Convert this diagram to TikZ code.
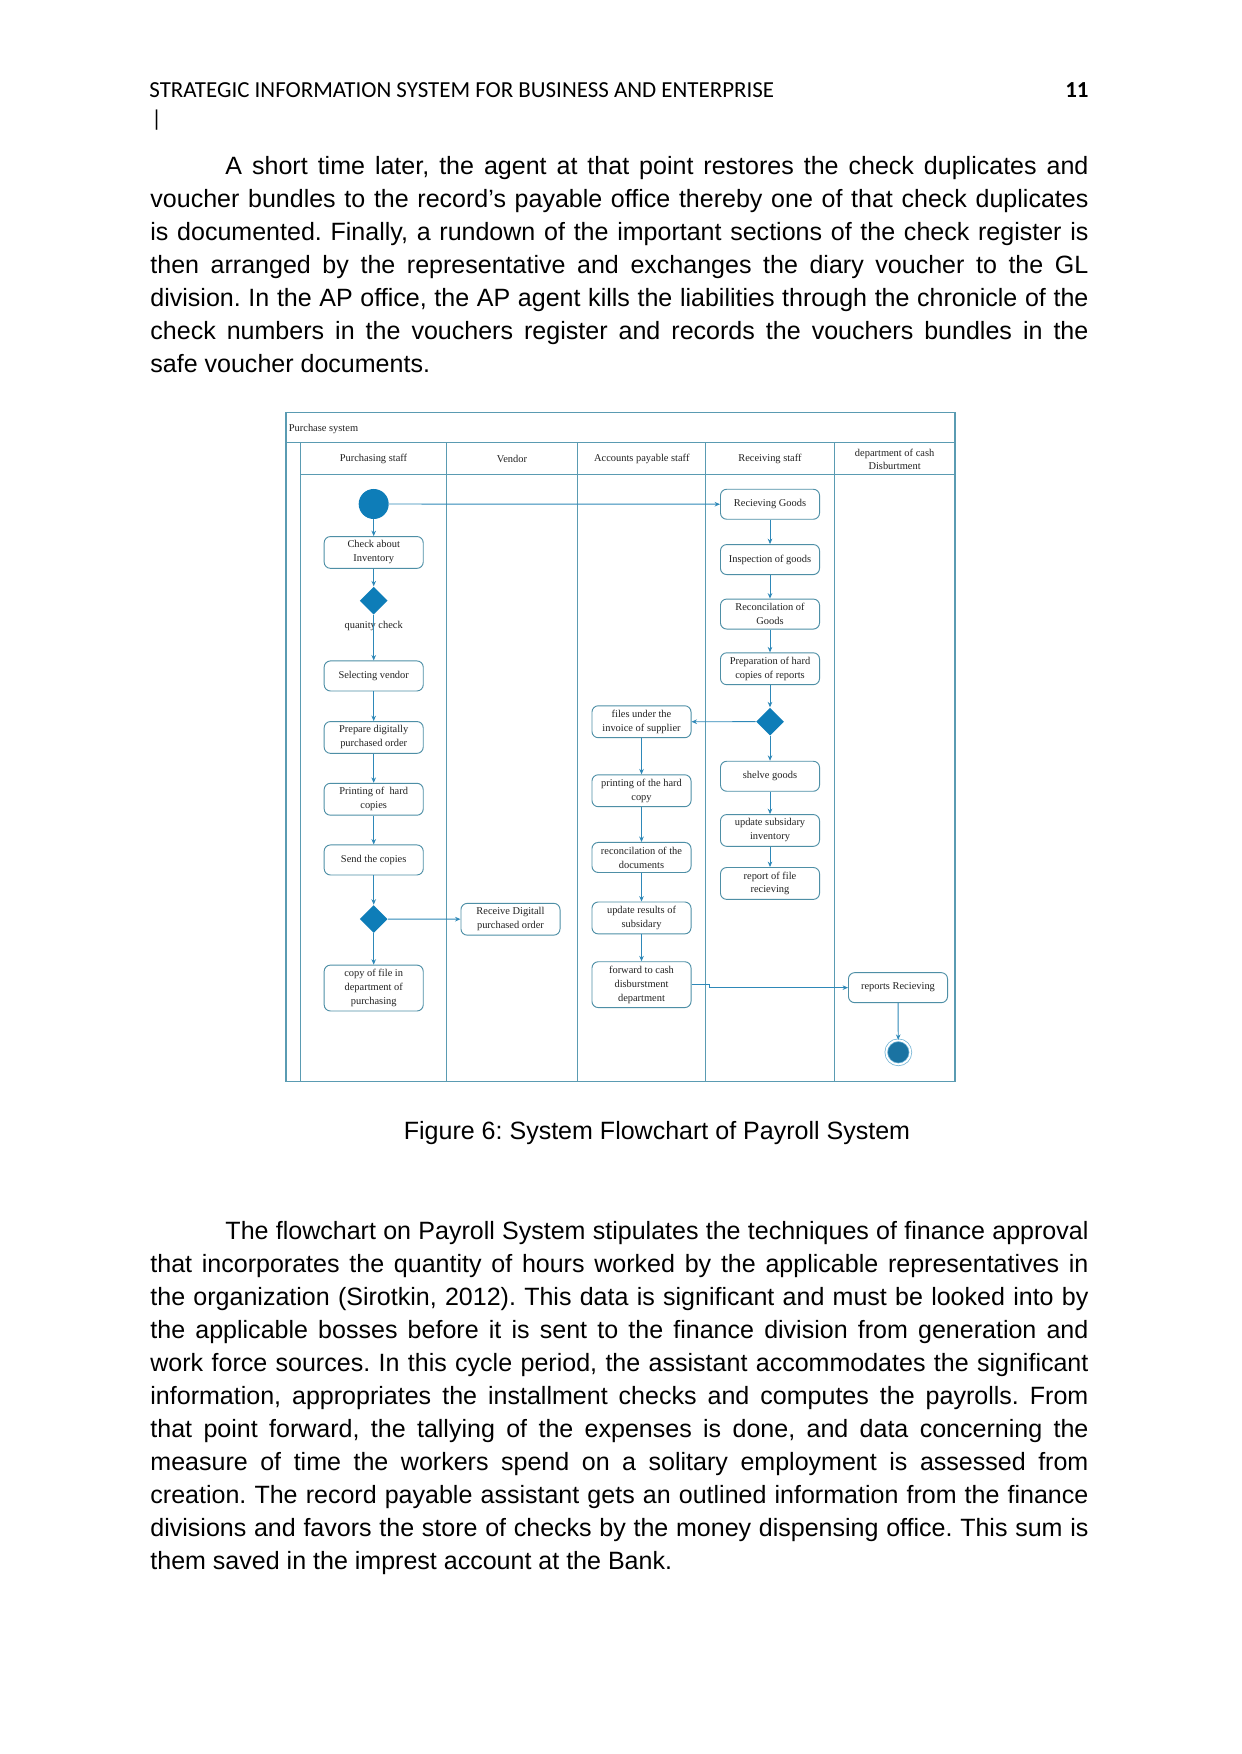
\documentclass[tikz,border=0pt]{standalone}
\usepackage{fontspec}
\setmainfont{Liberation Sans}
\newfontfamily\diafont{Liberation Serif}
\newfontfamily\headfont{Carlito}
\usetikzlibrary{shapes.geometric, arrows.meta, positioning}
\frenchspacing

\definecolor{laneline}{HTML}{5A9BB2}
\definecolor{boxline}{HTML}{4E8FA6}
\definecolor{flowblue}{HTML}{2E88B8}
\definecolor{decblue}{HTML}{0E7DB8}
\definecolor{endblue}{HTML}{1A73A2}
\definecolor{ringblue}{HTML}{6FB2D4}
\definecolor{diatext}{HTML}{222222}

\begin{document}
\begin{tikzpicture}[x=0.4795pt, y=-0.4795pt,
        para/.style={anchor=base west, inner sep=0pt, text width=449.8pt, align=justify, font=\fontsize{12}{15.82}\selectfont},
        lane/.style={draw=laneline, line width=0.5pt},
        lanehead/.style={font=\diafont\fontsize{5}{6.2}\selectfont, text=diatext, align=center, inner sep=0pt, yshift=-0.5pt},
        box/.style={rectangle, draw=boxline, line width=0.45pt, fill=white, rounded corners=3pt, minimum width=47.5pt, minimum height=14.4pt, inner xsep=2pt, inner ysep=2pt, align=center, text=diatext, font=\diafont\fontsize{5}{6.7}\selectfont, yshift=-0.6pt},
        dec/.style={diamond, fill=decblue, minimum width=13.4pt, minimum height=13.4pt, inner sep=0pt},
        startnode/.style={circle, fill=decblue, minimum size=14.4pt, inner sep=0pt},
        endnode/.style={circle, fill=endblue, draw=ringblue, line width=0.35pt, double=white, double distance=0.9pt, minimum size=11.6pt, inner sep=0pt},
        note/.style={font=\diafont\fontsize{5}{6}\selectfont, text=diatext, inner sep=0pt},
        flow/.style={draw=flowblue, line width=0.45pt, -{Stealth[length=2.6pt, width=2.2pt]}}
    ]
    \useasboundingbox[fill=white] (0,0) rectangle (1241,1754);

    % page header
    \node[anchor=base west, inner sep=0pt, font=\headfont\fontsize{11}{13}\selectfont] (head) at (149,97.5) {STRATEGIC INFORMATION SYSTEM FOR BUSINESS AND ENTERPRISE};
    \node[anchor=base east, inner sep=0pt, font=\headfont\bfseries\fontsize{11}{13}\selectfont] (pgno) at (1089,97.5) {11};
    \node[anchor=base west, inner sep=0pt, font=\headfont\fontsize{11}{13}\selectfont] (cursor) at (151,126.5) {|};

    % first paragraph
    \node[para] (par1) at (150,174.2) {\hspace*{36pt}A short time later, the agent at that point restores the check duplicates and\linebreak
        voucher bundles to the record’s payable office thereby one of that check duplicates\linebreak
        is documented. Finally, a rundown of the important sections of the check register is\linebreak
        then arranged by the representative and exchanges the diary voucher to the GL\linebreak
        division. In the AP office, the AP agent kills the liabilities through the chronicle of the\linebreak
        check numbers in the vouchers register and records the vouchers bundles in the\linebreak
        safe voucher documents.};

    % swimlanes
    \draw[lane] (286,412.3) rectangle (955,1081.7);
    \draw[lane] (286,442.3) -- (955,442.3);
    \draw[lane] (300.7,474.3) -- (955,474.3);
    \foreach \lx in {300.7, 446.3, 577.7, 705.7, 834.3}
        \draw[lane] (\lx,442.3) -- (\lx,1081.7);

    \node[lanehead, anchor=west] (title) at (288.5,428) {Purchase system};
    \node[lanehead] (lnA) at (373.5,458.3) {Purchasing staff};
    \node[lanehead] (lnB) at (512,458.3) {Vendor};
    \node[lanehead] (lnC) at (641.8,458.3) {Accounts payable staff};
    \node[lanehead] (lnD) at (770,458.3) {Receiving staff};
    \node[lanehead] (lnE) at (894.6,458.3) {department of cash\\Disburtment};

    % purchasing staff
    \node[startnode] (start) at (373.7,504) {};
    \node[box] (chk) at (373.7,551.2) {Check about\\Inventory};
    \node[dec] (dec1) at (373.7,600.7) {};
    \node[note] (qc) at (373.7,626.5) {quanity check};
    \node[box] (sel) at (373.7,674.7) {Selecting vendor};
    \node[box] (prep) at (373.7,736.2) {Prepare digitally\\purchased order};
    \node[box] (hard) at (373.7,798) {Printing of~ hard\\copies};
    \node[box] (send) at (373.7,858.7) {Send the copies};
    \node[dec] (dec2) at (373.7,919) {};
    \node[box] (copyf) at (373.7,986.8) {copy of file in\\department of\\purchasing};

    % vendor
    \node[box] (recv) at (510.5,918) {Receive Digitall\\purchased order};

    % accounts payable staff
    \node[box] (files) at (641.5,720.5) {files under the\\invoice of supplier};
    \node[box] (printh) at (641.5,789.5) {printing of the hard\\copy};
    \node[box] (recon) at (641.5,856.2) {reconcilation of the\\documents};
    \node[box] (upd) at (641.5,916.7) {update results of\\subsidary};
    \node[box] (fwd) at (641.5,983.4) {forward to cash\\disburstment\\department};

    % receiving staff
    \node[box] (rg) at (770,503) {Recieving Goods};
    \node[box] (insp) at (770,558.3) {Inspection of goods};
    \node[box] (recg) at (770,612.8) {Reconcilation of\\Goods};
    \node[box] (prephc) at (770,667.5) {Preparation of hard\\copies of reports};
    \node[dec] (dec3) at (770,721.7) {};
    \node[box] (shelve) at (770,775) {shelve goods};
    \node[box] (updinv) at (770,829.2) {update subsidary\\inventory};
    \node[box] (rep) at (770,882.2) {report of file\\recieving};

    % cash disbursement
    \node[box] (reprec) at (898,986.4) {reports Recieving};
    \node[endnode] (stop) at (898.3,1052.3) {};

    % connectors
    \draw[flow] (start) -- (chk);
    \draw[flow] (chk) -- (dec1);
    \draw[flow] (dec1) -- (sel);
    \draw[flow] (sel) -- (prep);
    \draw[flow] (prep) -- (hard);
    \draw[flow] (hard) -- (send);
    \draw[flow] (send) -- (dec2);
    \draw[flow] (dec2) -- (copyf);
    \draw[flow] (dec2) -- (recv);
    \draw[flow] (start) -- (rg);
    \draw[flow] (rg) -- (insp);
    \draw[flow] (insp) -- (recg);
    \draw[flow] (recg) -- (prephc);
    \draw[flow] (prephc) -- (dec3);
    \draw[flow] (dec3) -- (files);
    \draw[flow] (dec3) -- (shelve);
    \draw[flow] (shelve) -- (updinv);
    \draw[flow] (updinv) -- (rep);
    \draw[flow] (files) -- (printh);
    \draw[flow] (printh) -- (recon);
    \draw[flow] (recon) -- (upd);
    \draw[flow] (upd) -- (fwd);
    \draw[flow] (fwd.east) -- ++(18,0) |- (reprec.west);
    \draw[flow] (reprec) -- (stop);

    % caption
    \node[anchor=base, inner sep=0pt, font=\fontsize{12}{14}\selectfont] (caption) at (657,1139.5) {Figure 6: System Flowchart of Payroll System};

    % second paragraph
    \node[para] (par2) at (150,1239.3) {\hspace*{36pt}The flowchart on Payroll System stipulates the techniques of finance approval\linebreak
        that incorporates the quantity of hours worked by the applicable representatives in\linebreak
        the organization (Sirotkin, 2012). This data is significant and must be looked into by\linebreak
        the applicable bosses before it is sent to the finance division from generation and\linebreak
        work force sources. In this cycle period, the assistant accommodates the significant\linebreak
        information, appropriates the installment checks and computes the payrolls. From\linebreak
        that point forward, the tallying of the expenses is done, and data concerning the\linebreak
        measure of time the workers spend on a solitary employment is assessed from\linebreak
        creation. The record payable assistant gets an outlined information from the finance\linebreak
        divisions and favors the store of checks by the money dispensing office. This sum is\linebreak
        them saved in the imprest account at the Bank.};
\end{tikzpicture}
\end{document}
